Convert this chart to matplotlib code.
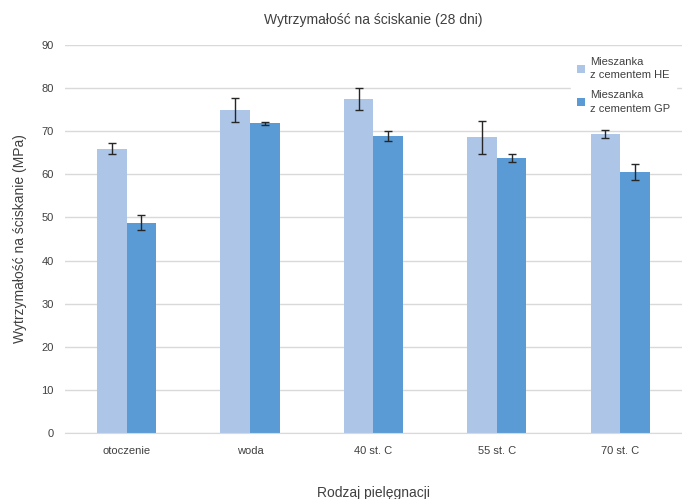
import numpy as np
import matplotlib.pyplot as plt

plt.rcParams['font.family'] = ['Liberation Sans', 'DejaVu Sans']

# data
categories = ["otoczenie", "woda", "40 st. C", "55 st. C", "70 st. C"]
he_values = [65.9, 75.0, 77.4, 68.6, 69.4]
he_errors = [1.3, 2.8, 2.6, 3.8, 0.9]
gp_values = [48.8, 71.8, 68.9, 63.8, 60.5]
gp_errors = [1.7, 0.3, 1.2, 0.9, 1.8]
series_names = ["Mieszanka\nz cementem HE", "Mieszanka\nz cementem GP"]

fig = plt.figure(figsize=(6.82, 4.99), dpi=100)
ax = fig.add_axes([0.095, 0.132, 0.905, 0.778])

x = np.arange(len(categories))
w = 0.24
err_kw = dict(ecolor="#262626", elinewidth=1, capsize=3, capthick=1)
ax.bar(x - w / 2, he_values, w, yerr=he_errors, color="#adc5e7",
       label=series_names[0], error_kw=err_kw, zorder=2)
ax.bar(x + w / 2, gp_values, w, yerr=gp_errors, color="#5b9bd5",
       label=series_names[1], error_kw=err_kw, zorder=2)

ax.set_xlim(-0.5, len(categories) - 0.5)
ax.set_ylim(0, 90)
ax.set_yticks(range(0, 91, 10))
ax.set_xticks(x)
ax.set_xticklabels(categories)
ax.grid(axis="y", color="#d9d9d9", linewidth=1, zorder=0)
ax.tick_params(axis="both", length=0, labelsize=8, colors="#404040")
ax.tick_params(axis="x", pad=9)
ax.tick_params(axis="y", pad=8)
for s in ["left", "right", "top"]:
    ax.spines[s].set_visible(False)
ax.spines["bottom"].set_color("#d9d9d9")

ax.set_title("Wytrzymałość na ściskanie (28 dni)", fontsize=10, color="#404040", pad=15)
ax.set_ylabel("Wytrzymałość na ściskanie (MPa)", fontsize=10, color="#404040", labelpad=10)
ax.set_xlabel("Rodzaj pielęgnacji", fontsize=10, color="#404040", labelpad=22)

leg = ax.legend(loc="upper right", bbox_to_anchor=(1.0, 1.0), frameon=True, fontsize=8,
                handlelength=0.7, handleheight=0.7, handletextpad=0.4,
                labelspacing=0.9, borderpad=0.6)
leg.get_frame().set_edgecolor("white")
leg.get_frame().set_facecolor("white")
leg.get_frame().set_alpha(1)
for t in leg.get_texts():
    t.set_color("#404040")
    t.set_linespacing(1.4)

fig.savefig("out.png", dpi=100)
